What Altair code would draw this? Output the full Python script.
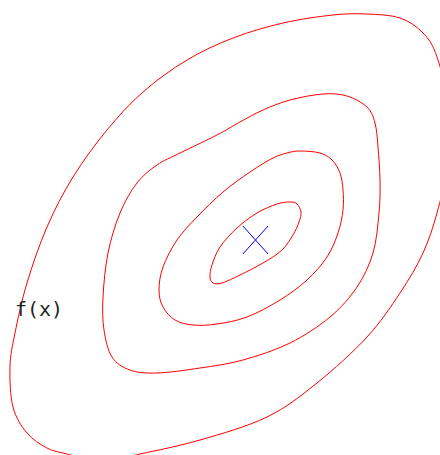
import altair as alt
import pandas as pd

# Contour rings of f(x), traced as closed loops (screen-like coordinates, y grows downward)
ring1_x = [290, 297, 301, 299, 293, 282, 263, 240, 222, 213, 210, 212, 220, 237, 257, 277]
ring1_y = [202, 204, 212, 222, 235, 250, 263, 275, 283, 283, 277, 265, 247, 228, 213, 204]

ring2_x = [300, 320, 332, 340, 343, 343, 338, 327, 307, 280, 247, 217, 193, 175, 163, 159, 163, 177, 197, 223, 250, 273, 287]
ring2_y = [151, 153, 160, 173, 190, 210, 233, 257, 280, 300, 317, 324, 325, 320, 307, 290, 267, 240, 217, 192, 172, 158, 153]

ring3_x = [323, 347, 367, 375, 378, 380, 379, 373, 357, 330, 290, 243, 200, 157, 130, 112, 104, 103, 108, 120, 137, 157, 180, 217, 240, 263, 290]
ring3_y = [94, 96, 107, 123, 147, 180, 213, 253, 287, 317, 343, 360, 368, 373, 370, 357, 330, 297, 253, 213, 183, 165, 153, 135, 122, 110, 100]

ring4_x = [367, 333, 283, 233, 187, 143, 107, 73, 47, 27, 15, 10, 13, 27, 47, 67, 100,
           140, 200, 267, 317, 367, 400, 423, 437, 446, 449, 437, 423, 400]
ring4_y = [14, 15, 23, 38, 60, 92, 130, 177, 227, 283, 333, 367, 407, 433, 448, 454, 462,
           454, 440, 417, 383, 337, 293, 253, 213, 170, 110, 57, 33, 18]

rings = [(ring1_x, ring1_y), (ring2_x, ring2_y), (ring3_x, ring3_y), (ring4_x, ring4_y)]

rows = []
for level, (xs, ys) in enumerate(rings, start=1):
    for i, (x, y) in enumerate(zip(xs, ys)):
        rows.append({"x": x, "y": y, "level": level, "idx": i})
contours = pd.DataFrame(rows)

# Location of the minimum and the label
minimum_x = [255.5]
minimum_y = [240]
label_text = ["f(x)"]
label_x = [15]
label_y = [316]

x_scale = alt.Scale(domain=[0, 440], nice=False, zero=False)
y_scale = alt.Scale(domain=[455, 0], nice=False, zero=False)
x_enc = lambda: alt.X("x:Q", scale=x_scale, axis=None)
y_enc = lambda: alt.Y("y:Q", scale=y_scale, axis=None)

lines = alt.Chart(contours).mark_line(
    interpolate="cardinal-closed", color="#ff0000", strokeWidth=1, clip=True
).encode(
    x=x_enc(), y=y_enc(), detail="level:N", order="idx:Q"
)

marker = alt.Chart(pd.DataFrame({"x": minimum_x, "y": minimum_y})).mark_point(
    shape="M-0.9,-1L0.9,1M-0.9,1L0.9,-1", size=784, filled=False, color="#0000ff",
    strokeWidth=1, opacity=1
).encode(x=x_enc(), y=y_enc())

label = alt.Chart(pd.DataFrame({"x": label_x, "y": label_y, "t": label_text})).mark_text(
    align="left", baseline="alphabetic", font="DejaVu Sans Mono", fontSize=20,
    color="#222222"
).encode(x=x_enc(), y=y_enc(), text="t:N")

chart = alt.layer(lines, marker, label).properties(
    width=440, height=455, padding=0, autosize=alt.AutoSizeParams(type="none")
).configure_view(stroke=None)

chart.save("out.html", embed_options={"renderer": "svg", "actions": False})
